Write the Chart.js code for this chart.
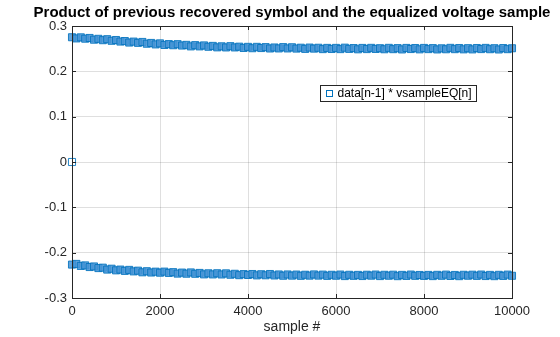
<!DOCTYPE html>
<html>
<head>
<meta charset="utf-8">
<script src="https://cdn.jsdelivr.net/npm/chart.js@4"></script>
<style>
  body { margin: 0; background: #fff; }
  #wrap { width: 560px; height: 337px; }
</style>
</head>
<body>
<div id="wrap"><canvas id="myChart" width="560" height="337"></canvas></div>
<script>
// products sampled every 100 symbols
const sampleStep = 100;
const firstProduct = 0; // no previous symbol at n = 0

const upperBand = [
  0.2752, 0.2726, 0.2750, 0.2720, 0.2736, 0.2698, 0.2717, 0.2687, 0.2709, 0.2674,
  0.2691, 0.2657, 0.2668, 0.2635, 0.2656, 0.2628, 0.2648, 0.2609, 0.2626, 0.2594,
  0.2617, 0.2582, 0.2601, 0.2576, 0.2599, 0.2569, 0.2584, 0.2550, 0.2578, 0.2550,
  0.2572, 0.2542, 0.2561, 0.2529, 0.2552, 0.2527, 0.2555, 0.2527, 0.2544, 0.2516,
  0.2540, 0.2510, 0.2540, 0.2514, 0.2534, 0.2504, 0.2526, 0.2505, 0.2534, 0.2505,
  0.2531, 0.2502, 0.2521, 0.2495, 0.2524, 0.2501, 0.2520, 0.2490, 0.2517, 0.2493,
  0.2517, 0.2490, 0.2522, 0.2495, 0.2513, 0.2486, 0.2516, 0.2491, 0.2518, 0.2494,
  0.2510, 0.2487, 0.2518, 0.2489, 0.2512, 0.2483, 0.2516, 0.2492, 0.2514, 0.2485,
  0.2516, 0.2490, 0.2512, 0.2483, 0.2508, 0.2487, 0.2518, 0.2489, 0.2514, 0.2485,
  0.2511, 0.2484, 0.2514, 0.2491, 0.2517, 0.2488, 0.2510, 0.2482, 0.2513, 0.2489, 0.2509
];

const lowerBand = [
  -0.2263, -0.2248, -0.2292, -0.2281, -0.2317, -0.2304, -0.2340, -0.2331, -0.2373, -0.2354,
  -0.2390, -0.2373, -0.2402, -0.2380, -0.2413, -0.2397, -0.2433, -0.2409, -0.2438, -0.2419,
  -0.2442, -0.2418, -0.2447, -0.2430, -0.2462, -0.2439, -0.2464, -0.2436, -0.2466, -0.2447,
  -0.2479, -0.2455, -0.2480, -0.2454, -0.2481, -0.2456, -0.2487, -0.2466, -0.2496, -0.2473,
  -0.2492, -0.2471, -0.2501, -0.2476, -0.2499, -0.2471, -0.2503, -0.2481, -0.2509, -0.2481,
  -0.2507, -0.2483, -0.2511, -0.2487, -0.2507, -0.2480, -0.2506, -0.2484, -0.2512, -0.2488,
  -0.2509, -0.2483, -0.2516, -0.2488, -0.2511, -0.2490, -0.2515, -0.2487, -0.2508, -0.2483,
  -0.2516, -0.2488, -0.2509, -0.2486, -0.2518, -0.2490, -0.2513, -0.2483, -0.2511, -0.2492,
  -0.2513, -0.2491, -0.2517, -0.2489, -0.2510, -0.2484, -0.2514, -0.2492, -0.2518, -0.2488,
  -0.2509, -0.2486, -0.2512, -0.2483, -0.2515, -0.2490, -0.2518, -0.2489, -0.2513, -0.2484, -0.2510
];

const xTicks = [0, 2000, 4000, 6000, 8000, 10000];
const yTicks = [-0.3, -0.2, -0.1, 0, 0.1, 0.2, 0.3];

const axisColor = '#262626';
const lineBlue = '#0072BD';
const fontFam = '"Liberation Sans", Arial, Helvetica, sans-serif';

const points = [{ x: 0, y: firstProduct }];
upperBand.forEach((v, i) => points.push({ x: i * sampleStep, y: v }));
lowerBand.forEach((v, i) => points.push({ x: i * sampleStep, y: v }));

// center the title over the axes rather than the whole canvas
const titleOverAxes = {
  id: 'titleOverAxes',
  afterLayout(chart) {
    const t = chart.titleBlock;
    const a = chart.chartArea;
    if (t) { t.left = 0; t.right = a.left + a.right; t.width = t.right; }
  }
};

// box around the axes + inward tick marks
const axesBox = {
  id: 'axesBox',
  afterDatasetsDraw(chart) {
    const { ctx, chartArea: a, scales } = chart;
    const tl = 4;
    ctx.save();
    ctx.strokeStyle = axisColor;
    ctx.lineWidth = 1;
    ctx.beginPath();
    xTicks.forEach(v => {
      const px = Math.round(scales.x.getPixelForValue(v)) + 0.5;
      ctx.moveTo(px, a.bottom); ctx.lineTo(px, a.bottom - tl);
      ctx.moveTo(px, a.top); ctx.lineTo(px, a.top + tl);
    });
    yTicks.forEach(v => {
      const py = Math.round(scales.y.getPixelForValue(v)) + 0.5;
      ctx.moveTo(a.left, py); ctx.lineTo(a.left + tl, py);
      ctx.moveTo(a.right, py); ctx.lineTo(a.right - tl, py);
    });
    ctx.stroke();
    ctx.strokeRect(Math.round(a.left) + 0.5, Math.round(a.top) + 0.5,
      Math.round(a.right - a.left), Math.round(a.bottom - a.top));
    ctx.restore();
  }
};

// legend sitting inside the plot
const insideLegend = {
  id: 'insideLegend',
  afterDraw(chart) {
    const { ctx, chartArea: a } = chart;
    const ds = chart.data.datasets[0];
    ctx.save();
    ctx.font = '12px ' + fontFam;
    const tw = ctx.measureText(ds.label).width;
    const bx = a.left + 248.5, by = a.top + 59.5;
    const bw = Math.round(tw + 22), bh = 16;
    ctx.fillStyle = '#fff';
    ctx.fillRect(bx, by, bw, bh);
    ctx.strokeStyle = axisColor;
    ctx.lineWidth = 1;
    ctx.strokeRect(bx, by, bw, bh);
    ctx.strokeStyle = lineBlue;
    ctx.strokeRect(bx + 6, by + 5, 6, 6);
    ctx.fillStyle = '#000';
    ctx.textBaseline = 'middle';
    ctx.fillText(ds.label, bx + 17, by + bh / 2 + 0.5);
    ctx.restore();
  }
};

new Chart(document.getElementById('myChart'), {
  type: 'scatter',
  data: {
    datasets: [{
      label: 'data[n-1] * vsampleEQ[n]',
      data: points,
      pointStyle: 'rect',
      pointRadius: 5,
      borderWidth: 1,
      borderColor: 'rgba(0,114,189,0.85)',
      backgroundColor: c => (c.dataIndex === 0 ? 'rgba(0,0,0,0)' : 'rgba(70,148,214,0.85)'),
      clip: false
    }]
  },
  options: {
    responsive: false,
    animation: false,
    events: [],
    layout: { padding: { left: 0, right: 48, top: 0, bottom: 0 } },
    plugins: {
      legend: { display: false },
      tooltip: { enabled: false },
      title: {
        display: true,
        text: 'Product of previous recovered symbol and the equalized voltage sample',
        color: '#000',
        font: { family: fontFam, size: 15, weight: 'bold', lineHeight: 1.2 },
        padding: { top: 4, bottom: 4 }
      }
    },
    scales: {
      x: {
        type: 'linear',
        min: 0,
        max: 10000,
        afterBuildTicks: s => { s.ticks = xTicks.map(v => ({ value: v })); },
        afterFit: s => { s.height = 39; },
        grid: { color: 'rgba(38,38,38,0.15)', drawTicks: false },
        border: { display: false },
        ticks: {
          color: axisColor,
          padding: 6,
          maxRotation: 0,
          font: { family: fontFam, size: 13 },
          callback: v => String(v)
        },
        title: {
          display: true,
          text: 'sample #',
          color: axisColor,
          font: { family: fontFam, size: 14 },
          padding: { top: 0, bottom: 1 }
        }
      },
      y: {
        min: -0.3,
        max: 0.3,
        afterBuildTicks: s => { s.ticks = yTicks.map(v => ({ value: v })); },
        afterFit: s => { s.width = 72; },
        grid: { color: 'rgba(38,38,38,0.15)', drawTicks: false },
        border: { display: false },
        ticks: {
          color: axisColor,
          padding: 5,
          font: { family: fontFam, size: 13 },
          callback: v => (v === 0 ? '0' : v.toFixed(1))
        }
      }
    }
  },
  plugins: [titleOverAxes, axesBox, insideLegend]
});
</script>
</body>
</html>
